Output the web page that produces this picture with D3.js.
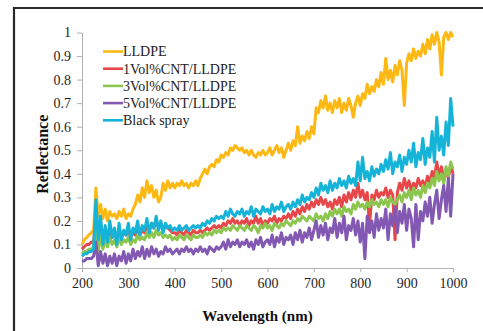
<!DOCTYPE html>
<html>
<head>
<meta charset="utf-8">
<script src="https://cdn.jsdelivr.net/npm/d3@7"></script>
<style>
  html, body { margin: 0; padding: 0; background: #fff; }
  svg { display: block; }
</style>
</head>
<body>
<svg id="chart" width="483" height="331"></svg>
<script>
// wavelength grid, 5 nm steps from 200 to 1000
const wavelengths = d3.range(200, 1001, 5);

const seriesNames = ['LLDPE', '1Vol%CNT/LLDPE', '3Vol%CNT/LLDPE', '5Vol%CNT/LLDPE', 'Black spray'];
const seriesColors = ['#fdb813', '#e8474a', '#8cc64f', '#8258b2', '#16b3d8'];

const xTicks = [200, 300, 400, 500, 600, 700, 800, 900, 1000];
const yTicks = [0, 0.1, 0.2, 0.3, 0.4, 0.5, 0.6, 0.7, 0.8, 0.9, 1];

// reflectance, one row = 50 nm
const lldpe = [
  0.10, 0.12, 0.13, 0.14, 0.15, 0.16, 0.34, 0.22, 0.27, 0.21,
  0.25, 0.20, 0.24, 0.22, 0.23, 0.21, 0.24, 0.22, 0.25, 0.21,
  0.23, 0.22, 0.25, 0.27, 0.31, 0.28, 0.34, 0.30, 0.37, 0.32,
  0.35, 0.30, 0.33, 0.28, 0.30, 0.36, 0.33, 0.37, 0.34, 0.36,
  0.34, 0.36, 0.35, 0.37, 0.35, 0.36, 0.34, 0.36, 0.35, 0.37,
  0.35, 0.38, 0.40, 0.42, 0.40, 0.43, 0.44, 0.43, 0.46, 0.45,
  0.48, 0.47, 0.49, 0.48, 0.51, 0.50, 0.52, 0.51, 0.50, 0.51,
  0.49, 0.50, 0.48, 0.50, 0.48, 0.47, 0.49, 0.48, 0.50, 0.48,
  0.49, 0.51, 0.48, 0.50, 0.52, 0.49, 0.51, 0.47, 0.50, 0.53,
  0.50, 0.54, 0.52, 0.60, 0.53, 0.56, 0.54, 0.58, 0.55, 0.60,
  0.57, 0.68, 0.66, 0.71, 0.68, 0.73, 0.67, 0.70, 0.66, 0.71,
  0.68, 0.72, 0.66, 0.70, 0.67, 0.72, 0.69, 0.64, 0.70, 0.73,
  0.69, 0.74, 0.72, 0.78, 0.74, 0.77, 0.75, 0.80, 0.77, 0.83,
  0.78, 0.89, 0.80, 0.84, 0.79, 0.86, 0.82, 0.88, 0.84, 0.69,
  0.87, 0.91, 0.88, 0.93, 0.89, 0.92, 0.90, 0.95, 0.91, 0.97,
  0.93, 0.99, 0.95, 1.00, 0.96, 0.82, 0.98, 1.00, 0.97, 1.00,
  0.98
];

const cnt1 = [
  0.08, 0.09, 0.10, 0.10, 0.11, 0.11, 0.22, 0.10, 0.18, 0.11,
  0.16, 0.12, 0.17, 0.13, 0.15, 0.12, 0.16, 0.13, 0.15, 0.14,
  0.16, 0.13, 0.15, 0.14, 0.17, 0.14, 0.16, 0.15, 0.18, 0.16,
  0.19, 0.17, 0.20, 0.17, 0.19, 0.16, 0.18, 0.17, 0.16, 0.15,
  0.15, 0.14, 0.16, 0.15, 0.14, 0.16, 0.15, 0.14, 0.16, 0.15,
  0.15, 0.16, 0.15, 0.16, 0.17, 0.16, 0.17, 0.18, 0.17, 0.18,
  0.17, 0.19, 0.18, 0.20, 0.19, 0.21, 0.19, 0.20, 0.18, 0.20,
  0.19, 0.21, 0.18, 0.20, 0.19, 0.22, 0.19, 0.21, 0.18, 0.20,
  0.19, 0.21, 0.20, 0.22, 0.19, 0.21, 0.20, 0.22, 0.21, 0.23,
  0.21, 0.24, 0.22, 0.25, 0.23, 0.26, 0.24, 0.27, 0.25, 0.28,
  0.26, 0.29, 0.27, 0.30, 0.27, 0.29, 0.26, 0.28, 0.25, 0.29,
  0.27, 0.30, 0.26, 0.31, 0.28, 0.32, 0.29, 0.33, 0.30, 0.36,
  0.30, 0.33, 0.29, 0.32, 0.18, 0.31, 0.29, 0.33, 0.30, 0.32,
  0.31, 0.34, 0.30, 0.33, 0.31, 0.12, 0.32, 0.36, 0.33, 0.38,
  0.34, 0.37, 0.33, 0.36, 0.34, 0.38, 0.35, 0.37, 0.34, 0.39,
  0.36, 0.41, 0.38, 0.45, 0.39, 0.43, 0.37, 0.42, 0.38, 0.44,
  0.40
];

const cnt3 = [
  0.06, 0.07, 0.07, 0.08, 0.08, 0.09, 0.18, 0.07, 0.14, 0.08,
  0.12, 0.09, 0.13, 0.10, 0.12, 0.09, 0.13, 0.10, 0.12, 0.11,
  0.13, 0.10, 0.12, 0.11, 0.14, 0.12, 0.13, 0.12, 0.15, 0.13,
  0.15, 0.13, 0.16, 0.14, 0.15, 0.13, 0.14, 0.13, 0.14, 0.12,
  0.13, 0.12, 0.14, 0.13, 0.12, 0.14, 0.13, 0.12, 0.14, 0.13,
  0.13, 0.14, 0.13, 0.15, 0.14, 0.15, 0.14, 0.16, 0.15, 0.16,
  0.15, 0.17, 0.16, 0.17, 0.16, 0.18, 0.17, 0.16, 0.18, 0.17,
  0.16, 0.18, 0.17, 0.16, 0.18, 0.17, 0.15, 0.18, 0.17, 0.19,
  0.17, 0.18, 0.16, 0.19, 0.18, 0.17, 0.19, 0.18, 0.20, 0.19,
  0.18, 0.20, 0.19, 0.21, 0.20, 0.22, 0.21, 0.20, 0.22, 0.21,
  0.20, 0.23, 0.21, 0.22, 0.20, 0.23, 0.21, 0.24, 0.22, 0.25,
  0.23, 0.25, 0.22, 0.26, 0.24, 0.25, 0.23, 0.27, 0.25, 0.28,
  0.26, 0.27, 0.25, 0.28, 0.26, 0.29, 0.27, 0.28, 0.26, 0.29,
  0.27, 0.29, 0.26, 0.30, 0.28, 0.27, 0.29, 0.31, 0.28, 0.32,
  0.30, 0.33, 0.29, 0.34, 0.31, 0.33, 0.30, 0.35, 0.32, 0.36,
  0.34, 0.38, 0.35, 0.41, 0.37, 0.40, 0.36, 0.43, 0.39, 0.45,
  0.42
];

const cnt5 = [
  0.03, 0.03, 0.04, 0.04, 0.04, 0.05, 0.11, 0.01, 0.07, 0.02,
  0.06, 0.01, 0.05, 0.02, 0.06, 0.01, 0.05, 0.03, 0.07, 0.02,
  0.06, 0.03, 0.08, 0.04, 0.07, 0.05, 0.09, 0.04, 0.08, 0.05,
  0.09, 0.06, 0.08, 0.05, 0.07, 0.06, 0.09, 0.07, 0.08, 0.06,
  0.07, 0.08, 0.06, 0.08, 0.07, 0.09, 0.07, 0.08, 0.06, 0.08,
  0.07, 0.09, 0.07, 0.08, 0.06, 0.09, 0.08, 0.07, 0.09, 0.08,
  0.09, 0.11, 0.08, 0.12, 0.09, 0.11, 0.10, 0.12, 0.09, 0.11,
  0.10, 0.12, 0.09, 0.11, 0.08, 0.12, 0.10, 0.13, 0.09, 0.11,
  0.12, 0.10, 0.14, 0.09, 0.13, 0.11, 0.15, 0.10, 0.13, 0.12,
  0.14, 0.10, 0.15, 0.12, 0.16, 0.11, 0.15, 0.13, 0.17, 0.12,
  0.16, 0.20, 0.13, 0.18, 0.14, 0.19, 0.12, 0.17, 0.15, 0.21,
  0.13, 0.19, 0.15, 0.22, 0.12, 0.18, 0.16, 0.21, 0.14, 0.20,
  0.11, 0.19, 0.04, 0.22, 0.15, 0.20, 0.13, 0.23, 0.16, 0.21,
  0.17, 0.25, 0.12, 0.23, 0.18, 0.26, 0.15, 0.24, 0.19, 0.27,
  0.16, 0.25, 0.21, 0.09, 0.27, 0.12, 0.24, 0.20, 0.28, 0.22,
  0.30, 0.19, 0.27, 0.33, 0.21, 0.29, 0.35, 0.24, 0.38, 0.22,
  0.40
];

const blackSpray = [
  0.05, 0.06, 0.06, 0.07, 0.07, 0.08, 0.29, 0.12, 0.22, 0.10,
  0.18, 0.11, 0.20, 0.13, 0.17, 0.10, 0.19, 0.12, 0.16, 0.14,
  0.19, 0.12, 0.17, 0.15, 0.20, 0.14, 0.18, 0.16, 0.21, 0.15,
  0.19, 0.17, 0.22, 0.16, 0.20, 0.15, 0.19, 0.17, 0.18, 0.16,
  0.17, 0.16, 0.18, 0.16, 0.17, 0.18, 0.16, 0.17, 0.18, 0.17,
  0.18, 0.17, 0.19, 0.18, 0.20, 0.19, 0.21, 0.20, 0.22, 0.21,
  0.22, 0.21, 0.24, 0.22, 0.25, 0.23, 0.22, 0.24, 0.23, 0.25,
  0.22, 0.24, 0.23, 0.26, 0.22, 0.25, 0.24, 0.23, 0.26, 0.24,
  0.25, 0.23, 0.27, 0.24, 0.26, 0.25, 0.28, 0.24, 0.26, 0.27,
  0.25, 0.28, 0.26, 0.29, 0.27, 0.31, 0.28, 0.30, 0.29, 0.32,
  0.30, 0.34, 0.31, 0.36, 0.33, 0.35, 0.32, 0.37, 0.33, 0.36,
  0.34, 0.38, 0.35, 0.37, 0.34, 0.39, 0.36, 0.38, 0.35, 0.45,
  0.37, 0.47, 0.38, 0.41, 0.37, 0.43, 0.39, 0.42, 0.40, 0.44,
  0.41, 0.46, 0.42, 0.49, 0.40, 0.45, 0.43, 0.48, 0.41, 0.47,
  0.44, 0.50, 0.45, 0.53, 0.43, 0.49, 0.46, 0.55, 0.44, 0.51,
  0.47, 0.58, 0.45, 0.64, 0.50, 0.56, 0.48, 0.62, 0.52, 0.72,
  0.60
];

const seriesValues = [lldpe, cnt1, cnt3, cnt5, blackSpray];

const margin = { top: 32.5, right: 30, bottom: 63, left: 82 };
const W = 483, H = 331;
const width = W - margin.left - margin.right;
const height = H - margin.top - margin.bottom;
const serif = '"Liberation Serif", "Times New Roman", serif';

const svg = d3.select('#chart');

// frame (cut off on the right and bottom in the original)
svg.append('path')
  .attr('d', `M14,${H + 5} L14,8 L${W + 5},8`)
  .attr('fill', 'none')
  .attr('stroke', '#2a2a2a')
  .attr('stroke-width', 2.2);

const g = svg.append('g')
  .attr('transform', `translate(${margin.left},${margin.top})`);

const x = d3.scaleLinear().domain([200, 1000]).range([0, width]);
const y = d3.scaleLinear().domain([0, 1]).range([height, 0]);

// axes
const xAxis = g.append('g')
  .attr('transform', `translate(0,${height})`)
  .call(d3.axisBottom(x).tickValues(xTicks).tickFormat(d3.format('d'))
    .tickSize(4).tickPadding(6).tickSizeOuter(0));
const yAxis = g.append('g')
  .call(d3.axisLeft(y).tickValues(yTicks).tickFormat(d => String(d))
    .tickSize(5).tickPadding(6).tickSizeOuter(0));

[xAxis, yAxis].forEach(ax => {
  ax.select('.domain').attr('stroke', '#b0b0b0');
  ax.selectAll('.tick line').attr('stroke', '#b0b0b0');
  ax.selectAll('.tick text')
    .attr('fill', '#1e1e1e')
    .style('font-family', serif)
    .style('font-size', '14px');
});

// lines
const line = d3.line()
  .x((d, i) => x(wavelengths[i]))
  .y(d => y(d));

seriesValues.forEach((vals, k) => {
  g.append('path')
    .datum(vals)
    .attr('fill', 'none')
    .attr('stroke', seriesColors[k])
    .attr('stroke-width', 3)
    .attr('stroke-linejoin', 'round')
    .attr('d', line);
});

// legend
const legend = g.append('g').attr('transform', 'translate(21,19)');
seriesNames.forEach((name, k) => {
  const row = legend.append('g').attr('transform', `translate(0,${k * 17.2})`);
  row.append('line')
    .attr('x1', 0).attr('x2', 20)
    .attr('stroke', seriesColors[k])
    .attr('stroke-width', 2.6);
  row.append('text')
    .attr('x', 20)
    .attr('dy', '0.35em')
    .attr('fill', '#222')
    .style('font-family', serif)
    .style('font-size', '14px')
    .text(name);
});

// axis titles
g.append('text')
  .attr('x', width / 2 - 10)
  .attr('y', height + 53)
  .attr('text-anchor', 'middle')
  .attr('fill', '#111')
  .style('font-family', serif)
  .style('font-weight', 'bold')
  .style('font-size', '15px')
  .text('Wavelength (nm)');

g.append('text')
  .attr('transform', `translate(${-38},${height / 2 + 4}) rotate(-90)`)
  .attr('text-anchor', 'middle')
  .attr('dominant-baseline', 'middle')
  .attr('fill', '#111')
  .style('font-family', serif)
  .style('font-weight', 'bold')
  .style('font-size', '16px')
  .text('Reflectance');
</script>
</body>
</html>
